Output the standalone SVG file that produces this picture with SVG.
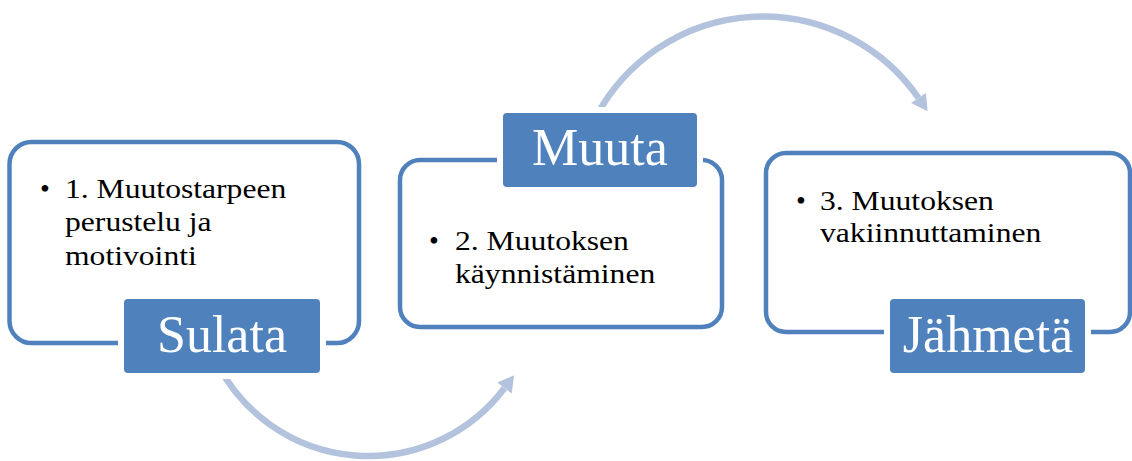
<svg xmlns="http://www.w3.org/2000/svg" width="1132" height="461" viewBox="0 0 1132 461">
<style>
.frame{fill:#ffffff;stroke:#4f81bd;stroke-width:4.5}
.gap{fill:#ffffff}
.lbl{fill:#4f81bd}
.lbltxt{font-family:"Liberation Serif","Times New Roman",serif;font-size:52px;fill:#ffffff;text-anchor:middle}
.body{font-family:"Liberation Serif","Times New Roman",serif;font-size:28px;fill:#000000}
.arc{fill:none;stroke:#b3c3de;stroke-width:6.5;stroke-linecap:butt}
.head{fill:#b3c3de}
</style>
<rect width="1132" height="461" fill="#ffffff"/>
<g id="connectors">
  <path class="arc" d="M 218 365 A 170 170 0 0 0 504.5 388"/>
  <polygon class="head" points="497.3,382.6 511.7,393.4 514.1,375.2"/>
  <path class="arc" d="M 597 115 A 189 189 0 0 1 918.5 98"/>
  <polygon class="head" points="911.1,103.1 925.9,92.9 927.6,111.2"/>
</g>
<g id="node-sulata">
  <rect class="frame" x="9.5" y="142" width="349.5" height="201" rx="22"/>
  <text class="body" x="40" y="198">•</text>
  <text class="body" transform="translate(65 198) scale(1.13 1)"><tspan x="0" y="0">1. Muutostarpeen</tspan><tspan x="0" y="33.5">perustelu ja</tspan><tspan x="0" y="67">motivointi</tspan></text>
  <rect class="gap" x="118" y="293" width="208" height="86"/>
  <rect class="lbl" x="124" y="299" width="196" height="74" rx="4"/>
  <text class="lbltxt" x="222" y="352">Sulata</text>
</g>
<g id="node-muuta">
  <rect class="frame" x="400" y="160" width="322" height="167" rx="20"/>
  <text class="body" x="429" y="250">•</text>
  <text class="body" transform="translate(455 250) scale(1.13 1)"><tspan x="0" y="0">2. Muutoksen</tspan><tspan x="0" y="33">käynnistäminen</tspan></text>
  <rect class="gap" x="497" y="107" width="206" height="86"/>
  <rect class="lbl" x="503" y="113" width="194" height="74" rx="4"/>
  <text class="lbltxt" x="600" y="165">Muuta</text>
</g>
<g id="node-jahmeta">
  <rect class="frame" x="766" y="153" width="364" height="179" rx="20"/>
  <text class="body" x="796" y="210">•</text>
  <text class="body" transform="translate(820 210) scale(1.13 1)"><tspan x="0" y="0">3. Muutoksen</tspan><tspan x="0" y="32">vakiinnuttaminen</tspan></text>
  <rect class="gap" x="884" y="293" width="207" height="86"/>
  <rect class="lbl" x="890" y="299" width="195" height="74" rx="4"/>
  <text class="lbltxt" x="988" y="352">Jähmetä</text>
</g>
</svg>
